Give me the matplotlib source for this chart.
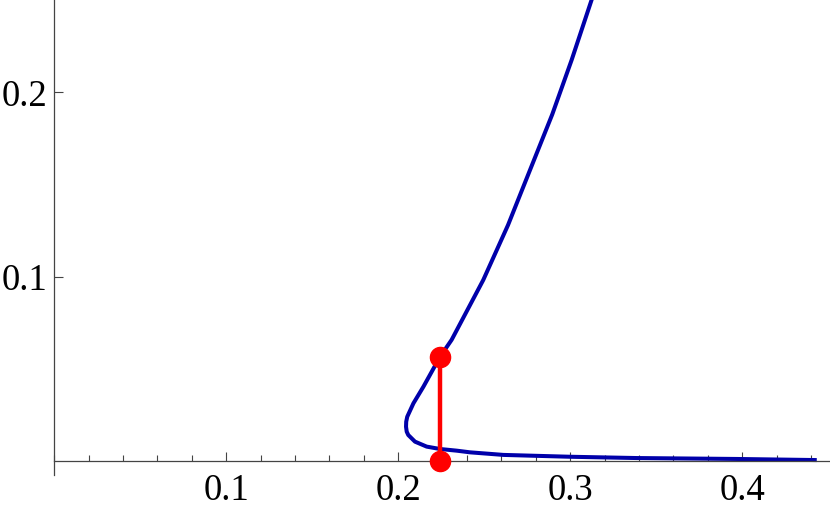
import matplotlib
matplotlib.use("Agg")
import matplotlib.pyplot as plt
from matplotlib.ticker import MultipleLocator

# S-shaped response curve, read along the curve from the top of the upper branch
curve_x = [0.3134, 0.3008, 0.2895, 0.2766, 0.2638, 0.2494, 0.2310, 0.2243, 0.2146,
           0.2088, 0.2052, 0.2046, 0.2045, 0.2049, 0.2058, 0.2097, 0.2165, 0.2243,
           0.2340, 0.2417, 0.2611, 0.2998, 0.3386, 0.3967, 0.4433]
curve_y = [0.2530, 0.2176, 0.1880, 0.1579, 0.1280, 0.0982, 0.0657, 0.0566, 0.0403,
           0.0313, 0.0240, 0.0213, 0.0186, 0.0159, 0.0141, 0.0105, 0.0078, 0.0065,
           0.0056, 0.0047, 0.0033, 0.0023, 0.0016, 0.0011, 0.0005]

# jump between the two branches
jump_x = [0.2243, 0.2243]
jump_y = [0.0566, 0.0]

x_ticks = [0.1, 0.2, 0.3, 0.4]
y_ticks = [0.1, 0.2]

plt.rcParams['font.family'] = ['Liberation Serif', 'DejaVu Serif']

fig = plt.figure(figsize=(8.3, 5.16), dpi=100)
ax = fig.add_axes([54.3 / 830, 41 / 516, (830 - 54.3) / 830, 475 / 516])

ax.plot(curve_x, curve_y, color='#0000aa', linewidth=2.9, solid_capstyle='butt',
        solid_joinstyle='round', zorder=2)
ax.plot(jump_x, jump_y, color='#ff0000', linewidth=3.2, marker='o', markersize=14.5,
        zorder=3, clip_on=False)

ax.set_xlim(0, 0.451)
ax.set_ylim(-0.0076, 0.2501)

axis_col = '#444444'
for s in ['top', 'right']:
    ax.spines[s].set_visible(False)
ax.spines['bottom'].set_position(('data', 0))
ax.spines['bottom'].set_color(axis_col)
ax.spines['left'].set_color(axis_col)
ax.spines['bottom'].set_linewidth(0.9)
ax.spines['left'].set_linewidth(0.9)

ax.set_xticks(x_ticks)
ax.set_xticklabels([str(t) for t in x_ticks])
ax.xaxis.set_minor_locator(MultipleLocator(0.02))
ax.set_yticks(y_ticks)
ax.set_yticklabels([str(t) for t in y_ticks])

ax.tick_params(axis='x', which='major', direction='in', length=6.5, width=0.8,
               color=axis_col, labelsize=26.5, pad=9)
ax.tick_params(axis='x', which='minor', direction='in', length=4, width=0.8, color=axis_col)
ax.tick_params(axis='y', which='major', direction='in', length=6.5, width=0.8,
               color=axis_col, labelsize=26.5, pad=5)

fig.savefig("out.png", dpi=100)
